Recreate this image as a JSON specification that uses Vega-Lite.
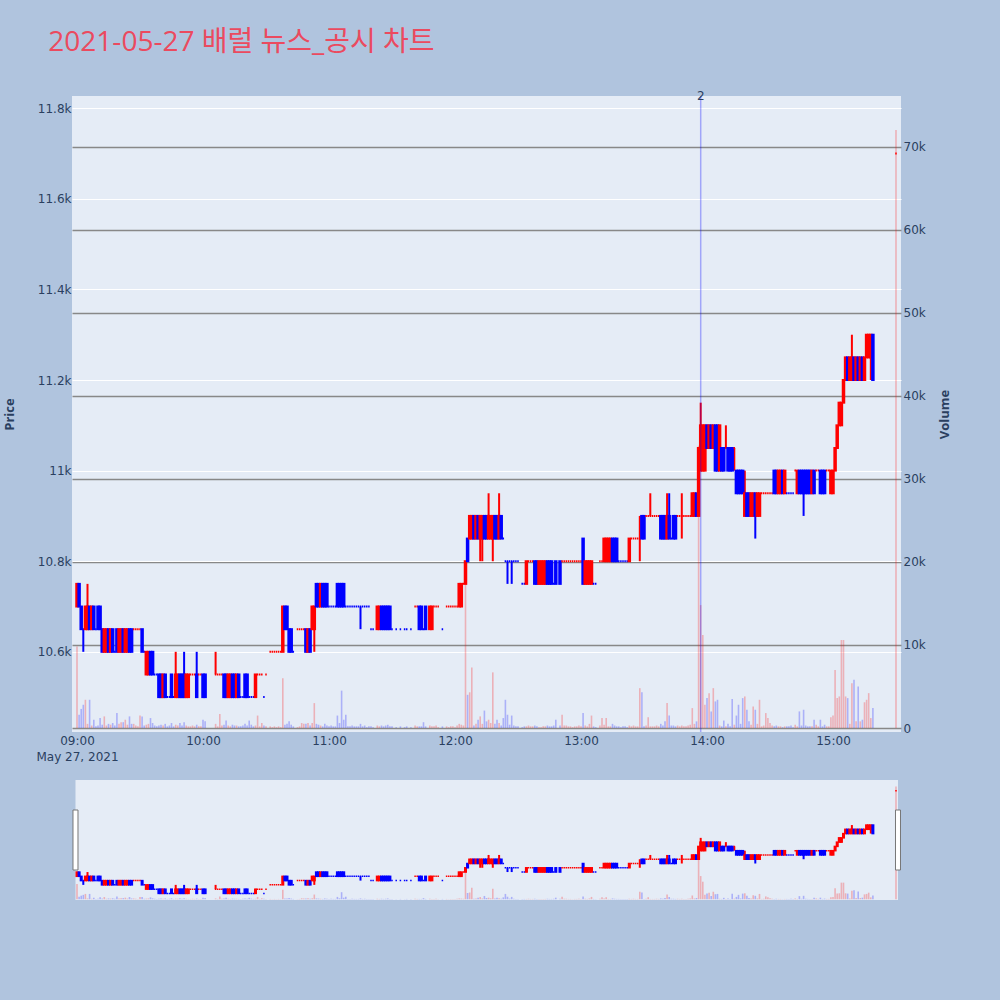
{
"$schema":"https://vega.github.io/schema/vega-lite/v6.json",
"background":"#B0C4DE",
"padding":{"left":3,"top":29,"right":50,"bottom":100},
"title":{"text":"2021-05-27 배럴 뉴스_공시 차트","anchor":"start","fontSize":28,"font":"Open Sans, Noto Sans CJK KR","fontWeight":"normal","color":"#EB4A5F","dx":45,"offset":33},
"bounds":"flush",
"spacing":48,
"config":{"view":{"stroke":null},"scale":{"continuousPadding":0},"axis":{"labelFont":"DejaVu Sans","titleFont":"Open Sans","labelColor":"#2a3f5f","titleColor":"#2a3f5f","labelFontSize":12,"titleFontSize":13,"titleFontWeight":"bold","domain":false,"ticks":false}},
"datasets":{"ohlc":[
{"t":"2021-05-27T09:00","o":10700,"h":10750,"l":10700,"c":10750,"v":9800},
{"t":"2021-05-27T09:01","o":10750,"h":10750,"l":10700,"c":10700,"v":1600},
{"t":"2021-05-27T09:02","o":10700,"h":10700,"l":10650,"c":10650,"v":2300},
{"t":"2021-05-27T09:03","o":10650,"h":10650,"l":10600,"c":10650,"v":2800},
{"t":"2021-05-27T09:04","o":10650,"h":10700,"l":10650,"c":10700,"v":3400},
{"t":"2021-05-27T09:05","o":10650,"h":10750,"l":10650,"c":10700,"v":500},
{"t":"2021-05-27T09:06","o":10700,"h":10700,"l":10650,"c":10650,"v":3400},
{"t":"2021-05-27T09:07","o":10650,"h":10700,"l":10650,"c":10700,"v":300},
{"t":"2021-05-27T09:08","o":10700,"h":10700,"l":10650,"c":10650,"v":1000},
{"t":"2021-05-27T09:09","o":10650,"h":10650,"l":10650,"c":10650,"v":200},
{"t":"2021-05-27T09:10","o":10700,"h":10700,"l":10650,"c":10650,"v":300},
{"t":"2021-05-27T09:11","o":10700,"h":10700,"l":10650,"c":10650,"v":1200},
{"t":"2021-05-27T09:12","o":10650,"h":10650,"l":10600,"c":10600,"v":400},
{"t":"2021-05-27T09:13","o":10600,"h":10650,"l":10600,"c":10650,"v":1400},
{"t":"2021-05-27T09:14","o":10600,"h":10650,"l":10600,"c":10650,"v":300},
{"t":"2021-05-27T09:15","o":10650,"h":10650,"l":10600,"c":10600,"v":500},
{"t":"2021-05-27T09:16","o":10600,"h":10650,"l":10600,"c":10650,"v":400},
{"t":"2021-05-27T09:17","o":10650,"h":10650,"l":10600,"c":10600,"v":600},
{"t":"2021-05-27T09:18","o":10600,"h":10600,"l":10600,"c":10600,"v":300},
{"t":"2021-05-27T09:19","o":10650,"h":10650,"l":10600,"c":10600,"v":1800},
{"t":"2021-05-27T09:20","o":10600,"h":10650,"l":10600,"c":10650,"v":500},
{"t":"2021-05-27T09:21","o":10600,"h":10650,"l":10600,"c":10650,"v":700},
{"t":"2021-05-27T09:22","o":10650,"h":10650,"l":10600,"c":10600,"v":700},
{"t":"2021-05-27T09:23","o":10600,"h":10650,"l":10600,"c":10650,"v":1000},
{"t":"2021-05-27T09:24","o":10600,"h":10650,"l":10600,"c":10650,"v":400},
{"t":"2021-05-27T09:25","o":10650,"h":10650,"l":10600,"c":10600,"v":1400},
{"t":"2021-05-27T09:26","o":10650,"h":10650,"l":10600,"c":10600,"v":500},
{"t":"2021-05-27T09:27","o":10650,"h":10650,"l":10650,"c":10650,"v":500},
{"t":"2021-05-27T09:28","o":10650,"h":10650,"l":10650,"c":10650,"v":300},
{"t":"2021-05-27T09:29","o":10650,"h":10650,"l":10650,"c":10650,"v":200},
{"t":"2021-05-27T09:30","o":10650,"h":10650,"l":10650,"c":10650,"v":1500},
{"t":"2021-05-27T09:31","o":10650,"h":10650,"l":10600,"c":10600,"v":1400},
{"t":"2021-05-27T09:32","o":10600,"h":10600,"l":10600,"c":10600,"v":300},
{"t":"2021-05-27T09:33","o":10550,"h":10600,"l":10550,"c":10600,"v":400},
{"t":"2021-05-27T09:34","o":10550,"h":10600,"l":10550,"c":10600,"v":500},
{"t":"2021-05-27T09:35","o":10600,"h":10600,"l":10550,"c":10550,"v":1200},
{"t":"2021-05-27T09:36","o":10600,"h":10600,"l":10550,"c":10550,"v":600},
{"t":"2021-05-27T09:37","o":10550,"h":10550,"l":10550,"c":10550,"v":300},
{"t":"2021-05-27T09:38","o":10550,"h":10550,"l":10550,"c":10550,"v":200},
{"t":"2021-05-27T09:39","o":10550,"h":10550,"l":10500,"c":10500,"v":300},
{"t":"2021-05-27T09:40","o":10550,"h":10550,"l":10500,"c":10500,"v":400},
{"t":"2021-05-27T09:41","o":10500,"h":10550,"l":10500,"c":10550,"v":300},
{"t":"2021-05-27T09:42","o":10550,"h":10550,"l":10500,"c":10500,"v":500},
{"t":"2021-05-27T09:43","o":10500,"h":10500,"l":10500,"c":10500,"v":200},
{"t":"2021-05-27T09:44","o":10500,"h":10500,"l":10500,"c":10500,"v":300},
{"t":"2021-05-27T09:45","o":10550,"h":10550,"l":10500,"c":10500,"v":600},
{"t":"2021-05-27T09:46","o":10500,"h":10500,"l":10500,"c":10500,"v":200},
{"t":"2021-05-27T09:47","o":10500,"h":10600,"l":10500,"c":10550,"v":400},
{"t":"2021-05-27T09:48","o":10500,"h":10550,"l":10500,"c":10550,"v":300},
{"t":"2021-05-27T09:49","o":10550,"h":10550,"l":10500,"c":10500,"v":600},
{"t":"2021-05-27T09:50","o":10550,"h":10550,"l":10500,"c":10500,"v":300},
{"t":"2021-05-27T09:51","o":10550,"h":10600,"l":10500,"c":10500,"v":700},
{"t":"2021-05-27T09:52","o":10500,"h":10550,"l":10500,"c":10550,"v":300},
{"t":"2021-05-27T09:53","o":10500,"h":10550,"l":10500,"c":10550,"v":200},
{"t":"2021-05-27T09:54","o":10550,"h":10550,"l":10550,"c":10550,"v":200},
{"t":"2021-05-27T09:55","o":10550,"h":10550,"l":10550,"c":10550,"v":300},
{"t":"2021-05-27T09:56","o":10550,"h":10550,"l":10550,"c":10550,"v":200},
{"t":"2021-05-27T09:57","o":10550,"h":10600,"l":10500,"c":10500,"v":400},
{"t":"2021-05-27T09:58","o":10550,"h":10550,"l":10550,"c":10550,"v":200},
{"t":"2021-05-27T09:59","o":10550,"h":10550,"l":10550,"c":10550,"v":200},
{"t":"2021-05-27T10:00","o":10550,"h":10550,"l":10500,"c":10500,"v":1000},
{"t":"2021-05-27T10:01","o":10550,"h":10550,"l":10500,"c":10500,"v":800},
{"t":"2021-05-27T10:06","o":10550,"h":10600,"l":10550,"c":10550,"v":500},
{"t":"2021-05-27T10:07","o":10550,"h":10550,"l":10550,"c":10550,"v":200},
{"t":"2021-05-27T10:08","o":10550,"h":10550,"l":10550,"c":10550,"v":1700},
{"t":"2021-05-27T10:09","o":10550,"h":10550,"l":10550,"c":10550,"v":300},
{"t":"2021-05-27T10:10","o":10550,"h":10550,"l":10500,"c":10500,"v":400},
{"t":"2021-05-27T10:11","o":10550,"h":10550,"l":10500,"c":10500,"v":900},
{"t":"2021-05-27T10:12","o":10500,"h":10550,"l":10500,"c":10550,"v":300},
{"t":"2021-05-27T10:13","o":10500,"h":10550,"l":10500,"c":10550,"v":200},
{"t":"2021-05-27T10:14","o":10550,"h":10550,"l":10500,"c":10500,"v":400},
{"t":"2021-05-27T10:15","o":10550,"h":10550,"l":10500,"c":10500,"v":300},
{"t":"2021-05-27T10:16","o":10500,"h":10550,"l":10500,"c":10550,"v":300},
{"t":"2021-05-27T10:17","o":10550,"h":10550,"l":10500,"c":10500,"v":200},
{"t":"2021-05-27T10:18","o":10500,"h":10500,"l":10500,"c":10500,"v":200},
{"t":"2021-05-27T10:19","o":10500,"h":10500,"l":10500,"c":10500,"v":300},
{"t":"2021-05-27T10:20","o":10550,"h":10550,"l":10500,"c":10500,"v":500},
{"t":"2021-05-27T10:21","o":10550,"h":10550,"l":10500,"c":10500,"v":300},
{"t":"2021-05-27T10:22","o":10500,"h":10500,"l":10500,"c":10500,"v":900},
{"t":"2021-05-27T10:23","o":10500,"h":10500,"l":10500,"c":10500,"v":400},
{"t":"2021-05-27T10:24","o":10500,"h":10500,"l":10500,"c":10500,"v":200},
{"t":"2021-05-27T10:25","o":10500,"h":10550,"l":10500,"c":10550,"v":300},
{"t":"2021-05-27T10:26","o":10550,"h":10550,"l":10550,"c":10550,"v":1500},
{"t":"2021-05-27T10:27","o":10550,"h":10550,"l":10550,"c":10550,"v":200},
{"t":"2021-05-27T10:28","o":10550,"h":10550,"l":10550,"c":10550,"v":600},
{"t":"2021-05-27T10:29","o":10500,"h":10500,"l":10500,"c":10500,"v":300},
{"t":"2021-05-27T10:30","o":10550,"h":10550,"l":10550,"c":10550,"v":200},
{"t":"2021-05-27T10:32","o":10600,"h":10600,"l":10600,"c":10600,"v":200},
{"t":"2021-05-27T10:33","o":10600,"h":10600,"l":10600,"c":10600,"v":100},
{"t":"2021-05-27T10:34","o":10600,"h":10600,"l":10600,"c":10600,"v":200},
{"t":"2021-05-27T10:35","o":10600,"h":10600,"l":10600,"c":10600,"v":100},
{"t":"2021-05-27T10:36","o":10600,"h":10600,"l":10600,"c":10600,"v":200},
{"t":"2021-05-27T10:37","o":10600,"h":10600,"l":10600,"c":10600,"v":100},
{"t":"2021-05-27T10:38","o":10600,"h":10700,"l":10600,"c":10700,"v":6000},
{"t":"2021-05-27T10:39","o":10700,"h":10700,"l":10650,"c":10650,"v":400},
{"t":"2021-05-27T10:40","o":10700,"h":10700,"l":10650,"c":10650,"v":500},
{"t":"2021-05-27T10:41","o":10650,"h":10650,"l":10600,"c":10600,"v":800},
{"t":"2021-05-27T10:42","o":10650,"h":10650,"l":10600,"c":10600,"v":400},
{"t":"2021-05-27T10:43","o":10600,"h":10600,"l":10600,"c":10600,"v":200},
{"t":"2021-05-27T10:45","o":10650,"h":10650,"l":10650,"c":10650,"v":100},
{"t":"2021-05-27T10:46","o":10650,"h":10650,"l":10650,"c":10650,"v":200},
{"t":"2021-05-27T10:47","o":10650,"h":10650,"l":10650,"c":10650,"v":600},
{"t":"2021-05-27T10:48","o":10650,"h":10650,"l":10650,"c":10650,"v":500},
{"t":"2021-05-27T10:49","o":10650,"h":10650,"l":10600,"c":10600,"v":500},
{"t":"2021-05-27T10:50","o":10600,"h":10650,"l":10600,"c":10650,"v":600},
{"t":"2021-05-27T10:51","o":10650,"h":10650,"l":10600,"c":10600,"v":300},
{"t":"2021-05-27T10:52","o":10650,"h":10700,"l":10650,"c":10700,"v":600},
{"t":"2021-05-27T10:53","o":10650,"h":10700,"l":10600,"c":10700,"v":3000},
{"t":"2021-05-27T10:54","o":10750,"h":10750,"l":10700,"c":10700,"v":500},
{"t":"2021-05-27T10:55","o":10750,"h":10750,"l":10700,"c":10700,"v":400},
{"t":"2021-05-27T10:56","o":10700,"h":10750,"l":10700,"c":10750,"v":300},
{"t":"2021-05-27T10:57","o":10750,"h":10750,"l":10700,"c":10700,"v":200},
{"t":"2021-05-27T10:58","o":10750,"h":10750,"l":10700,"c":10700,"v":500},
{"t":"2021-05-27T10:59","o":10750,"h":10750,"l":10700,"c":10700,"v":300},
{"t":"2021-05-27T11:00","o":10700,"h":10700,"l":10700,"c":10700,"v":200},
{"t":"2021-05-27T11:01","o":10700,"h":10700,"l":10700,"c":10700,"v":300},
{"t":"2021-05-27T11:02","o":10700,"h":10700,"l":10700,"c":10700,"v":200},
{"t":"2021-05-27T11:03","o":10700,"h":10700,"l":10700,"c":10700,"v":200},
{"t":"2021-05-27T11:04","o":10750,"h":10750,"l":10700,"c":10700,"v":1500},
{"t":"2021-05-27T11:05","o":10750,"h":10750,"l":10700,"c":10700,"v":600},
{"t":"2021-05-27T11:06","o":10750,"h":10750,"l":10700,"c":10700,"v":4500},
{"t":"2021-05-27T11:07","o":10750,"h":10750,"l":10700,"c":10700,"v":1000},
{"t":"2021-05-27T11:08","o":10700,"h":10700,"l":10700,"c":10700,"v":1600},
{"t":"2021-05-27T11:09","o":10700,"h":10700,"l":10700,"c":10700,"v":200},
{"t":"2021-05-27T11:10","o":10700,"h":10700,"l":10700,"c":10700,"v":200},
{"t":"2021-05-27T11:11","o":10700,"h":10700,"l":10700,"c":10700,"v":300},
{"t":"2021-05-27T11:12","o":10700,"h":10700,"l":10700,"c":10700,"v":200},
{"t":"2021-05-27T11:13","o":10700,"h":10700,"l":10700,"c":10700,"v":200},
{"t":"2021-05-27T11:14","o":10700,"h":10700,"l":10700,"c":10700,"v":200},
{"t":"2021-05-27T11:15","o":10700,"h":10700,"l":10650,"c":10700,"v":500},
{"t":"2021-05-27T11:16","o":10700,"h":10700,"l":10700,"c":10700,"v":200},
{"t":"2021-05-27T11:17","o":10700,"h":10700,"l":10700,"c":10700,"v":300},
{"t":"2021-05-27T11:18","o":10700,"h":10700,"l":10700,"c":10700,"v":100},
{"t":"2021-05-27T11:19","o":10700,"h":10700,"l":10700,"c":10700,"v":200},
{"t":"2021-05-27T11:20","o":10650,"h":10650,"l":10650,"c":10650,"v":200},
{"t":"2021-05-27T11:21","o":10650,"h":10650,"l":10650,"c":10650,"v":100},
{"t":"2021-05-27T11:23","o":10650,"h":10700,"l":10650,"c":10700,"v":300},
{"t":"2021-05-27T11:24","o":10650,"h":10700,"l":10650,"c":10700,"v":200},
{"t":"2021-05-27T11:25","o":10700,"h":10700,"l":10650,"c":10650,"v":300},
{"t":"2021-05-27T11:26","o":10700,"h":10700,"l":10650,"c":10650,"v":200},
{"t":"2021-05-27T11:27","o":10700,"h":10700,"l":10650,"c":10650,"v":300},
{"t":"2021-05-27T11:28","o":10700,"h":10700,"l":10650,"c":10650,"v":400},
{"t":"2021-05-27T11:29","o":10700,"h":10700,"l":10650,"c":10650,"v":200},
{"t":"2021-05-27T11:30","o":10650,"h":10650,"l":10650,"c":10650,"v":200},
{"t":"2021-05-27T11:32","o":10650,"h":10650,"l":10650,"c":10650,"v":100},
{"t":"2021-05-27T11:34","o":10650,"h":10650,"l":10650,"c":10650,"v":200},
{"t":"2021-05-27T11:36","o":10650,"h":10650,"l":10650,"c":10650,"v":100},
{"t":"2021-05-27T11:37","o":10650,"h":10650,"l":10650,"c":10650,"v":200},
{"t":"2021-05-27T11:39","o":10650,"h":10650,"l":10650,"c":10650,"v":100},
{"t":"2021-05-27T11:41","o":10700,"h":10700,"l":10700,"c":10700,"v":300},
{"t":"2021-05-27T11:42","o":10700,"h":10700,"l":10700,"c":10700,"v":200},
{"t":"2021-05-27T11:43","o":10700,"h":10700,"l":10650,"c":10650,"v":200},
{"t":"2021-05-27T11:44","o":10700,"h":10700,"l":10650,"c":10650,"v":200},
{"t":"2021-05-27T11:45","o":10650,"h":10650,"l":10650,"c":10650,"v":700},
{"t":"2021-05-27T11:46","o":10700,"h":10700,"l":10650,"c":10650,"v":200},
{"t":"2021-05-27T11:48","o":10650,"h":10700,"l":10650,"c":10700,"v":300},
{"t":"2021-05-27T11:49","o":10650,"h":10700,"l":10650,"c":10700,"v":200},
{"t":"2021-05-27T11:50","o":10700,"h":10700,"l":10700,"c":10700,"v":200},
{"t":"2021-05-27T11:51","o":10700,"h":10700,"l":10700,"c":10700,"v":300},
{"t":"2021-05-27T11:52","o":10700,"h":10700,"l":10700,"c":10700,"v":100},
{"t":"2021-05-27T11:54","o":10650,"h":10650,"l":10650,"c":10650,"v":200},
{"t":"2021-05-27T11:56","o":10700,"h":10700,"l":10700,"c":10700,"v":200},
{"t":"2021-05-27T11:57","o":10700,"h":10700,"l":10700,"c":10700,"v":100},
{"t":"2021-05-27T11:58","o":10700,"h":10700,"l":10700,"c":10700,"v":200},
{"t":"2021-05-27T11:59","o":10700,"h":10700,"l":10700,"c":10700,"v":200},
{"t":"2021-05-27T12:00","o":10700,"h":10700,"l":10700,"c":10700,"v":100},
{"t":"2021-05-27T12:01","o":10700,"h":10700,"l":10700,"c":10700,"v":300},
{"t":"2021-05-27T12:02","o":10700,"h":10750,"l":10700,"c":10750,"v":500},
{"t":"2021-05-27T12:03","o":10700,"h":10750,"l":10700,"c":10750,"v":400},
{"t":"2021-05-27T12:04","o":10750,"h":10750,"l":10750,"c":10750,"v":300},
{"t":"2021-05-27T12:05","o":10750,"h":10800,"l":10750,"c":10800,"v":20000},
{"t":"2021-05-27T12:06","o":10850,"h":10850,"l":10800,"c":10800,"v":4000},
{"t":"2021-05-27T12:07","o":10850,"h":10900,"l":10850,"c":10900,"v":4300},
{"t":"2021-05-27T12:08","o":10850,"h":10900,"l":10850,"c":10900,"v":7300},
{"t":"2021-05-27T12:09","o":10900,"h":10900,"l":10850,"c":10850,"v":300},
{"t":"2021-05-27T12:10","o":10850,"h":10900,"l":10850,"c":10900,"v":500},
{"t":"2021-05-27T12:11","o":10900,"h":10900,"l":10850,"c":10850,"v":1000},
{"t":"2021-05-27T12:12","o":10850,"h":10900,"l":10800,"c":10900,"v":1400},
{"t":"2021-05-27T12:13","o":10850,"h":10900,"l":10800,"c":10900,"v":500},
{"t":"2021-05-27T12:14","o":10900,"h":10900,"l":10850,"c":10850,"v":2100},
{"t":"2021-05-27T12:15","o":10900,"h":10900,"l":10850,"c":10850,"v":800},
{"t":"2021-05-27T12:16","o":10850,"h":10950,"l":10850,"c":10900,"v":1000},
{"t":"2021-05-27T12:17","o":10850,"h":10900,"l":10850,"c":10900,"v":600},
{"t":"2021-05-27T12:18","o":10850,"h":10900,"l":10800,"c":10900,"v":6700},
{"t":"2021-05-27T12:19","o":10900,"h":10900,"l":10850,"c":10850,"v":500},
{"t":"2021-05-27T12:20","o":10900,"h":10900,"l":10850,"c":10850,"v":1000},
{"t":"2021-05-27T12:21","o":10850,"h":10950,"l":10850,"c":10900,"v":600},
{"t":"2021-05-27T12:22","o":10900,"h":10900,"l":10850,"c":10850,"v":300},
{"t":"2021-05-27T12:23","o":10850,"h":10850,"l":10850,"c":10850,"v":1200},
{"t":"2021-05-27T12:24","o":10800,"h":10800,"l":10800,"c":10800,"v":3400},
{"t":"2021-05-27T12:25","o":10800,"h":10800,"l":10750,"c":10800,"v":1600},
{"t":"2021-05-27T12:26","o":10800,"h":10800,"l":10800,"c":10800,"v":400},
{"t":"2021-05-27T12:27","o":10800,"h":10800,"l":10750,"c":10800,"v":1500},
{"t":"2021-05-27T12:28","o":10800,"h":10800,"l":10800,"c":10800,"v":300},
{"t":"2021-05-27T12:29","o":10800,"h":10800,"l":10800,"c":10800,"v":200},
{"t":"2021-05-27T12:30","o":10800,"h":10800,"l":10800,"c":10800,"v":200},
{"t":"2021-05-27T12:32","o":10750,"h":10750,"l":10750,"c":10750,"v":100},
{"t":"2021-05-27T12:33","o":10750,"h":10750,"l":10750,"c":10750,"v":200},
{"t":"2021-05-27T12:34","o":10750,"h":10800,"l":10750,"c":10800,"v":200},
{"t":"2021-05-27T12:35","o":10800,"h":10800,"l":10800,"c":10800,"v":300},
{"t":"2021-05-27T12:36","o":10800,"h":10800,"l":10800,"c":10800,"v":200},
{"t":"2021-05-27T12:37","o":10800,"h":10800,"l":10800,"c":10800,"v":200},
{"t":"2021-05-27T12:38","o":10800,"h":10800,"l":10750,"c":10750,"v":300},
{"t":"2021-05-27T12:39","o":10800,"h":10800,"l":10750,"c":10750,"v":200},
{"t":"2021-05-27T12:40","o":10750,"h":10800,"l":10750,"c":10800,"v":100},
{"t":"2021-05-27T12:41","o":10750,"h":10800,"l":10750,"c":10800,"v":100},
{"t":"2021-05-27T12:42","o":10750,"h":10800,"l":10750,"c":10800,"v":200},
{"t":"2021-05-27T12:43","o":10750,"h":10800,"l":10750,"c":10800,"v":200},
{"t":"2021-05-27T12:44","o":10800,"h":10800,"l":10750,"c":10750,"v":300},
{"t":"2021-05-27T12:45","o":10800,"h":10800,"l":10750,"c":10750,"v":200},
{"t":"2021-05-27T12:46","o":10800,"h":10800,"l":10750,"c":10750,"v":200},
{"t":"2021-05-27T12:47","o":10750,"h":10750,"l":10750,"c":10750,"v":300},
{"t":"2021-05-27T12:48","o":10800,"h":10800,"l":10750,"c":10750,"v":1000},
{"t":"2021-05-27T12:50","o":10800,"h":10800,"l":10750,"c":10750,"v":300},
{"t":"2021-05-27T12:51","o":10800,"h":10800,"l":10800,"c":10800,"v":1600},
{"t":"2021-05-27T12:52","o":10800,"h":10800,"l":10800,"c":10800,"v":300},
{"t":"2021-05-27T12:53","o":10800,"h":10800,"l":10800,"c":10800,"v":300},
{"t":"2021-05-27T12:54","o":10800,"h":10800,"l":10800,"c":10800,"v":200},
{"t":"2021-05-27T12:55","o":10800,"h":10800,"l":10800,"c":10800,"v":200},
{"t":"2021-05-27T12:56","o":10800,"h":10800,"l":10800,"c":10800,"v":100},
{"t":"2021-05-27T12:57","o":10800,"h":10800,"l":10800,"c":10800,"v":200},
{"t":"2021-05-27T12:58","o":10800,"h":10800,"l":10800,"c":10800,"v":200},
{"t":"2021-05-27T12:59","o":10800,"h":10800,"l":10800,"c":10800,"v":300},
{"t":"2021-05-27T13:00","o":10800,"h":10800,"l":10800,"c":10800,"v":200},
{"t":"2021-05-27T13:01","o":10850,"h":10850,"l":10750,"c":10750,"v":1800},
{"t":"2021-05-27T13:02","o":10750,"h":10800,"l":10750,"c":10800,"v":300},
{"t":"2021-05-27T13:03","o":10750,"h":10800,"l":10750,"c":10800,"v":200},
{"t":"2021-05-27T13:04","o":10750,"h":10800,"l":10750,"c":10800,"v":500},
{"t":"2021-05-27T13:05","o":10750,"h":10800,"l":10750,"c":10800,"v":1500},
{"t":"2021-05-27T13:06","o":10750,"h":10750,"l":10750,"c":10750,"v":200},
{"t":"2021-05-27T13:07","o":10750,"h":10750,"l":10750,"c":10750,"v":100},
{"t":"2021-05-27T13:09","o":10800,"h":10800,"l":10800,"c":10800,"v":300},
{"t":"2021-05-27T13:10","o":10800,"h":10800,"l":10800,"c":10800,"v":1200},
{"t":"2021-05-27T13:11","o":10800,"h":10850,"l":10800,"c":10850,"v":400},
{"t":"2021-05-27T13:12","o":10800,"h":10850,"l":10800,"c":10850,"v":1200},
{"t":"2021-05-27T13:13","o":10800,"h":10850,"l":10800,"c":10850,"v":200},
{"t":"2021-05-27T13:14","o":10800,"h":10850,"l":10800,"c":10850,"v":200},
{"t":"2021-05-27T13:15","o":10850,"h":10850,"l":10800,"c":10800,"v":500},
{"t":"2021-05-27T13:16","o":10850,"h":10850,"l":10800,"c":10800,"v":300},
{"t":"2021-05-27T13:17","o":10850,"h":10850,"l":10800,"c":10800,"v":200},
{"t":"2021-05-27T13:18","o":10800,"h":10800,"l":10800,"c":10800,"v":200},
{"t":"2021-05-27T13:19","o":10800,"h":10800,"l":10800,"c":10800,"v":100},
{"t":"2021-05-27T13:20","o":10800,"h":10800,"l":10800,"c":10800,"v":200},
{"t":"2021-05-27T13:21","o":10800,"h":10800,"l":10800,"c":10800,"v":200},
{"t":"2021-05-27T13:22","o":10800,"h":10800,"l":10800,"c":10800,"v":100},
{"t":"2021-05-27T13:23","o":10800,"h":10850,"l":10800,"c":10850,"v":300},
{"t":"2021-05-27T13:24","o":10850,"h":10850,"l":10850,"c":10850,"v":200},
{"t":"2021-05-27T13:25","o":10850,"h":10850,"l":10850,"c":10850,"v":300},
{"t":"2021-05-27T13:26","o":10850,"h":10850,"l":10850,"c":10850,"v":200},
{"t":"2021-05-27T13:27","o":10850,"h":10850,"l":10850,"c":10850,"v":200},
{"t":"2021-05-27T13:28","o":10850,"h":10900,"l":10800,"c":10850,"v":4800},
{"t":"2021-05-27T13:29","o":10900,"h":10900,"l":10850,"c":10850,"v":4300},
{"t":"2021-05-27T13:30","o":10900,"h":10900,"l":10850,"c":10850,"v":200},
{"t":"2021-05-27T13:31","o":10900,"h":10900,"l":10900,"c":10900,"v":300},
{"t":"2021-05-27T13:32","o":10900,"h":10900,"l":10900,"c":10900,"v":1300},
{"t":"2021-05-27T13:33","o":10900,"h":10950,"l":10900,"c":10900,"v":200},
{"t":"2021-05-27T13:34","o":10900,"h":10900,"l":10900,"c":10900,"v":200},
{"t":"2021-05-27T13:35","o":10900,"h":10900,"l":10900,"c":10900,"v":200},
{"t":"2021-05-27T13:36","o":10900,"h":10900,"l":10900,"c":10900,"v":300},
{"t":"2021-05-27T13:37","o":10900,"h":10900,"l":10900,"c":10900,"v":200},
{"t":"2021-05-27T13:38","o":10900,"h":10900,"l":10850,"c":10850,"v":500},
{"t":"2021-05-27T13:39","o":10900,"h":10900,"l":10850,"c":10850,"v":300},
{"t":"2021-05-27T13:40","o":10900,"h":10900,"l":10850,"c":10850,"v":800},
{"t":"2021-05-27T13:41","o":10850,"h":10950,"l":10850,"c":10900,"v":3000},
{"t":"2021-05-27T13:42","o":10900,"h":10950,"l":10850,"c":10850,"v":1500},
{"t":"2021-05-27T13:43","o":10850,"h":10850,"l":10850,"c":10850,"v":300},
{"t":"2021-05-27T13:44","o":10900,"h":10900,"l":10850,"c":10850,"v":300},
{"t":"2021-05-27T13:45","o":10900,"h":10900,"l":10850,"c":10850,"v":200},
{"t":"2021-05-27T13:46","o":10900,"h":10900,"l":10900,"c":10900,"v":300},
{"t":"2021-05-27T13:47","o":10900,"h":10900,"l":10900,"c":10900,"v":200},
{"t":"2021-05-27T13:48","o":10900,"h":10950,"l":10850,"c":10900,"v":300},
{"t":"2021-05-27T13:49","o":10900,"h":10900,"l":10900,"c":10900,"v":200},
{"t":"2021-05-27T13:50","o":10900,"h":10900,"l":10900,"c":10900,"v":200},
{"t":"2021-05-27T13:51","o":10900,"h":10900,"l":10900,"c":10900,"v":300},
{"t":"2021-05-27T13:52","o":10900,"h":10900,"l":10900,"c":10900,"v":400},
{"t":"2021-05-27T13:53","o":10900,"h":10950,"l":10900,"c":10950,"v":2400},
{"t":"2021-05-27T13:54","o":10900,"h":10950,"l":10900,"c":10950,"v":500},
{"t":"2021-05-27T13:55","o":10950,"h":10950,"l":10900,"c":10900,"v":800},
{"t":"2021-05-27T13:56","o":10900,"h":11050,"l":10900,"c":11050,"v":34000},
{"t":"2021-05-27T13:57","o":11000,"h":11150,"l":11000,"c":11100,"v":14800},
{"t":"2021-05-27T13:58","o":11000,"h":11100,"l":11000,"c":11100,"v":11200},
{"t":"2021-05-27T13:59","o":11000,"h":11100,"l":11000,"c":11100,"v":2800},
{"t":"2021-05-27T14:00","o":11100,"h":11100,"l":11050,"c":11050,"v":3600},
{"t":"2021-05-27T14:01","o":11050,"h":11100,"l":11050,"c":11100,"v":4200},
{"t":"2021-05-27T14:02","o":11100,"h":11100,"l":11050,"c":11050,"v":2000},
{"t":"2021-05-27T14:03","o":11050,"h":11100,"l":11050,"c":11100,"v":4800},
{"t":"2021-05-27T14:04","o":11100,"h":11100,"l":11000,"c":11000,"v":3200},
{"t":"2021-05-27T14:05","o":11100,"h":11100,"l":11000,"c":11000,"v":3400},
{"t":"2021-05-27T14:06","o":11000,"h":11100,"l":11000,"c":11100,"v":300},
{"t":"2021-05-27T14:07","o":11050,"h":11050,"l":11000,"c":11000,"v":200},
{"t":"2021-05-27T14:08","o":11050,"h":11050,"l":11000,"c":11000,"v":900},
{"t":"2021-05-27T14:09","o":11050,"h":11100,"l":11050,"c":11050,"v":200},
{"t":"2021-05-27T14:10","o":11050,"h":11050,"l":11000,"c":11000,"v":500},
{"t":"2021-05-27T14:11","o":11050,"h":11050,"l":11000,"c":11000,"v":200},
{"t":"2021-05-27T14:12","o":11050,"h":11050,"l":11000,"c":11000,"v":3500},
{"t":"2021-05-27T14:13","o":11050,"h":11050,"l":11000,"c":11050,"v":400},
{"t":"2021-05-27T14:14","o":11000,"h":11000,"l":10950,"c":10950,"v":1500},
{"t":"2021-05-27T14:15","o":11000,"h":11000,"l":10950,"c":10950,"v":2800},
{"t":"2021-05-27T14:16","o":11000,"h":11000,"l":10950,"c":10950,"v":500},
{"t":"2021-05-27T14:17","o":11000,"h":11000,"l":10950,"c":10950,"v":3600},
{"t":"2021-05-27T14:18","o":10900,"h":11000,"l":10900,"c":10950,"v":3800},
{"t":"2021-05-27T14:19","o":10950,"h":10950,"l":10900,"c":10900,"v":2200},
{"t":"2021-05-27T14:20","o":10950,"h":10950,"l":10900,"c":10900,"v":800},
{"t":"2021-05-27T14:21","o":10900,"h":10950,"l":10900,"c":10950,"v":400},
{"t":"2021-05-27T14:22","o":10900,"h":10950,"l":10900,"c":10950,"v":2600},
{"t":"2021-05-27T14:23","o":10950,"h":10950,"l":10850,"c":10900,"v":2200},
{"t":"2021-05-27T14:24","o":10900,"h":10950,"l":10900,"c":10950,"v":500},
{"t":"2021-05-27T14:25","o":10900,"h":10950,"l":10900,"c":10950,"v":3400},
{"t":"2021-05-27T14:26","o":10950,"h":10950,"l":10950,"c":10950,"v":200},
{"t":"2021-05-27T14:27","o":10950,"h":10950,"l":10950,"c":10950,"v":300},
{"t":"2021-05-27T14:28","o":10950,"h":10950,"l":10950,"c":10950,"v":1800},
{"t":"2021-05-27T14:29","o":10950,"h":10950,"l":10950,"c":10950,"v":1200},
{"t":"2021-05-27T14:30","o":10950,"h":10950,"l":10950,"c":10950,"v":600},
{"t":"2021-05-27T14:31","o":10950,"h":10950,"l":10950,"c":10950,"v":300},
{"t":"2021-05-27T14:32","o":11000,"h":11000,"l":10950,"c":10950,"v":200},
{"t":"2021-05-27T14:33","o":11000,"h":11000,"l":10950,"c":10950,"v":300},
{"t":"2021-05-27T14:34","o":10950,"h":11000,"l":10950,"c":11000,"v":200},
{"t":"2021-05-27T14:35","o":10950,"h":11000,"l":10950,"c":11000,"v":200},
{"t":"2021-05-27T14:36","o":11000,"h":11000,"l":10950,"c":10950,"v":100},
{"t":"2021-05-27T14:37","o":10950,"h":11000,"l":10950,"c":11000,"v":200},
{"t":"2021-05-27T14:38","o":10950,"h":10950,"l":10950,"c":10950,"v":200},
{"t":"2021-05-27T14:39","o":10950,"h":10950,"l":10950,"c":10950,"v":200},
{"t":"2021-05-27T14:40","o":10950,"h":10950,"l":10950,"c":10950,"v":300},
{"t":"2021-05-27T14:41","o":10950,"h":10950,"l":10950,"c":10950,"v":100},
{"t":"2021-05-27T14:42","o":11000,"h":11000,"l":11000,"c":11000,"v":400},
{"t":"2021-05-27T14:43","o":10950,"h":11000,"l":10950,"c":11000,"v":200},
{"t":"2021-05-27T14:44","o":11000,"h":11000,"l":10950,"c":10950,"v":2000},
{"t":"2021-05-27T14:45","o":11000,"h":11000,"l":10950,"c":10950,"v":300},
{"t":"2021-05-27T14:46","o":11000,"h":11000,"l":10900,"c":10950,"v":2200},
{"t":"2021-05-27T14:47","o":11000,"h":11000,"l":10950,"c":10950,"v":300},
{"t":"2021-05-27T14:48","o":11000,"h":11000,"l":10950,"c":10950,"v":200},
{"t":"2021-05-27T14:49","o":11000,"h":11000,"l":10950,"c":10950,"v":200},
{"t":"2021-05-27T14:50","o":10950,"h":11000,"l":10950,"c":11000,"v":200},
{"t":"2021-05-27T14:51","o":11000,"h":11000,"l":10950,"c":10950,"v":1000},
{"t":"2021-05-27T14:52","o":11000,"h":11000,"l":11000,"c":11000,"v":400},
{"t":"2021-05-27T14:53","o":11000,"h":11000,"l":11000,"c":11000,"v":200},
{"t":"2021-05-27T14:54","o":11000,"h":11000,"l":10950,"c":10950,"v":1000},
{"t":"2021-05-27T14:55","o":11000,"h":11000,"l":10950,"c":10950,"v":200},
{"t":"2021-05-27T14:56","o":11000,"h":11000,"l":10950,"c":10950,"v":400},
{"t":"2021-05-27T14:57","o":11000,"h":11000,"l":11000,"c":11000,"v":200},
{"t":"2021-05-27T14:58","o":11000,"h":11000,"l":11000,"c":11000,"v":200},
{"t":"2021-05-27T14:59","o":10950,"h":11000,"l":10950,"c":11000,"v":1300},
{"t":"2021-05-27T15:00","o":10950,"h":11000,"l":10950,"c":11000,"v":1500},
{"t":"2021-05-27T15:01","o":11000,"h":11050,"l":11000,"c":11050,"v":7000},
{"t":"2021-05-27T15:02","o":11050,"h":11100,"l":11050,"c":11100,"v":3600},
{"t":"2021-05-27T15:03","o":11100,"h":11150,"l":11100,"c":11150,"v":3800},
{"t":"2021-05-27T15:04","o":11100,"h":11150,"l":11100,"c":11150,"v":10600},
{"t":"2021-05-27T15:05","o":11150,"h":11200,"l":11150,"c":11200,"v":10600},
{"t":"2021-05-27T15:06","o":11200,"h":11250,"l":11200,"c":11250,"v":3800},
{"t":"2021-05-27T15:07","o":11250,"h":11250,"l":11200,"c":11200,"v":3600},
{"t":"2021-05-27T15:08","o":11200,"h":11250,"l":11200,"c":11250,"v":500},
{"t":"2021-05-27T15:09","o":11200,"h":11300,"l":11200,"c":11250,"v":5400},
{"t":"2021-05-27T15:10","o":11250,"h":11250,"l":11200,"c":11200,"v":5800},
{"t":"2021-05-27T15:11","o":11200,"h":11250,"l":11200,"c":11250,"v":800},
{"t":"2021-05-27T15:12","o":11250,"h":11250,"l":11200,"c":11200,"v":5000},
{"t":"2021-05-27T15:13","o":11200,"h":11250,"l":11200,"c":11250,"v":800},
{"t":"2021-05-27T15:14","o":11250,"h":11250,"l":11200,"c":11200,"v":1000},
{"t":"2021-05-27T15:15","o":11200,"h":11250,"l":11200,"c":11250,"v":3100},
{"t":"2021-05-27T15:16","o":11250,"h":11300,"l":11250,"c":11300,"v":3400},
{"t":"2021-05-27T15:17","o":11250,"h":11300,"l":11250,"c":11300,"v":4200},
{"t":"2021-05-27T15:18","o":11250,"h":11300,"l":11200,"c":11300,"v":1200},
{"t":"2021-05-27T15:19","o":11300,"h":11300,"l":11200,"c":11200,"v":2400},
{"t":"2021-05-27T15:30","o":11700,"h":11700,"l":11700,"c":11700,"v":72000}
],
"note":[{"t":"2021-05-27T13:57","label":"2"}],
"handles":[{"t":"2021-05-27T08:59:17"},{"t":"2021-05-27T15:30:57"}],
"slider":[{"t0":"2021-05-27T08:59:17","t1":"2021-05-27T15:30:57"}]
},
"vconcat":[
{
"width":829,"height":636,
"view":{"fill":"#E5ECF6"},
"data":{"name":"ohlc"},
"transform":[
{"window":[{"op":"lag","field":"c","as":"pc"},{"op":"row_number","as":"rn"}],"sort":[{"field":"t","order":"ascending"}]},
{"calculate":"datum.c > datum.o ? 1 : datum.c < datum.o ? -1 : (datum.pc == null ? 1 : datum.c > datum.pc ? 1 : datum.c < datum.pc ? -1 : 0)","as":"k"},
{"calculate":"datum.k == 0 ? 0 : datum.rn * 10 + (datum.k > 0 ? 2 : 1)","as":"key"},
{"window":[{"op":"max","field":"key","as":"lk"}],"sort":[{"field":"t","order":"ascending"}],"frame":[null,0]},
{"calculate":"datum.lk % 10 == 2 ? 'up' : 'down'","as":"dir"}
],
"resolve":{"scale":{"y":"independent"}},
"layer":[
{"mark":{"type":"bar","width":1.6,"opacity":0.25},
"encoding":{
"x":{"field":"t","type":"temporal","scale":{"padding":0,"domain":[{"year":2021,"month":5,"date":27,"hours":8,"minutes":57,"seconds":37},{"year":2021,"month":5,"date":27,"hours":15,"minutes":32,"seconds":23}]},
"axis":{"title":null,"grid":false,"values":[{"year":2021,"month":5,"date":27,"hours":9},{"year":2021,"month":5,"date":27,"hours":10},{"year":2021,"month":5,"date":27,"hours":11},{"year":2021,"month":5,"date":27,"hours":12},{"year":2021,"month":5,"date":27,"hours":13},{"year":2021,"month":5,"date":27,"hours":14},{"year":2021,"month":5,"date":27,"hours":15}],
"labelExpr":"hours(datum.value) == 9 ? ['09:00', 'May 27, 2021'] : timeFormat(datum.value, '%H:%M')","labelLineHeight":16,"labelPadding":3}},
"y":{"field":"v","type":"quantitative","scale":{"domain":[-480,76100],"nice":false,"zero":false},
"axis":{"orient":"right","title":"Volume","titleAngle":270,"values":[0,10000,20000,30000,40000,50000,60000,70000],"labelExpr":"datum.value == 0 ? '0' : (datum.value / 1000) + 'k'","grid":true,"gridColor":"#888888","gridWidth":1.5,"labelPadding":2,"titlePadding":26}},
"y2":{"datum":0},
"color":{"field":"dir","type":"nominal","scale":{"domain":["up","down"],"range":["#FF0000","#0000FF"]},"legend":null}}},
{"layer":[
{"mark":{"type":"rule","strokeWidth":2},
"encoding":{"x":{"field":"t","type":"temporal"},
"y":{"field":"l","type":"quantitative","scale":{"domain":[10423,11827],"nice":false,"zero":false},
"axis":{"title":"Price","values":[10600,10800,11000,11200,11400,11600,11800],"format":"~s","grid":true,"gridColor":"#FFFFFF","gridWidth":1,"labelPadding":1,"titlePadding":21}},
"y2":{"field":"h"},
"color":{"field":"dir","type":"nominal","scale":{"domain":["up","down"],"range":["#FF0000","#0000FF"]},"legend":null}}},
{"mark":{"type":"bar","width":1.5,"strokeWidth":2},
"encoding":{"x":{"field":"t","type":"temporal"},
"y":{"field":"o","type":"quantitative"},"y2":{"field":"c"},
"fill":{"field":"dir","type":"nominal","scale":{"domain":["up","down"],"range":["#FF0000","#0000FF"]},"legend":null},
"stroke":{"field":"dir","type":"nominal","scale":{"domain":["up","down"],"range":["#FF0000","#0000FF"]},"legend":null}}},
{"data":{"name":"note"},"mark":{"type":"rule","color":"#0000FF","opacity":0.3,"strokeWidth":1.5},
"encoding":{"x":{"field":"t","type":"temporal"}}},
{"data":{"name":"note"},"mark":{"type":"text","fontSize":12,"font":"DejaVu Sans","color":"#2a3f5f","baseline":"middle"},
"encoding":{"x":{"field":"t","type":"temporal"},"y":{"datum":11827,"type":"quantitative"},"text":{"field":"label"}}}
]}
]
},
{
"width":829,"height":120,
"data":{"name":"ohlc"},
"transform":[
{"window":[{"op":"lag","field":"c","as":"pc"},{"op":"row_number","as":"rn"}],"sort":[{"field":"t","order":"ascending"}]},
{"calculate":"datum.c > datum.o ? 1 : datum.c < datum.o ? -1 : (datum.pc == null ? 1 : datum.c > datum.pc ? 1 : datum.c < datum.pc ? -1 : 0)","as":"k"},
{"calculate":"datum.k == 0 ? 0 : datum.rn * 10 + (datum.k > 0 ? 2 : 1)","as":"key"},
{"window":[{"op":"max","field":"key","as":"lk"}],"sort":[{"field":"t","order":"ascending"}],"frame":[null,0]},
{"calculate":"datum.lk % 10 == 2 ? 'up' : 'down'","as":"dir"}
],
"resolve":{"scale":{"y":"independent"}},
"layer":[
{"data":{"name":"slider"},"mark":{"type":"rect","color":"#E5ECF6"},
"encoding":{"x":{"field":"t0","type":"temporal","scale":{"padding":0,"domain":[{"year":2021,"month":5,"date":27,"hours":8,"minutes":57,"seconds":37},{"year":2021,"month":5,"date":27,"hours":15,"minutes":32,"seconds":23}]},"axis":null},
"x2":{"field":"t1"},
"y":{"datum":10423,"type":"quantitative","scale":{"domain":[10423,11827],"nice":false,"zero":false},"axis":null},
"y2":{"datum":11827}}},
{"mark":{"type":"bar","width":1.6,"opacity":0.25},
"encoding":{"x":{"field":"t","type":"temporal","axis":null},
"y":{"field":"v","type":"quantitative","scale":{"domain":[-480,76100],"nice":false,"zero":false},"axis":null},
"y2":{"datum":0},
"color":{"field":"dir","type":"nominal","scale":{"domain":["up","down"],"range":["#FF0000","#0000FF"]},"legend":null}}},
{"layer":[
{"mark":{"type":"rule","strokeWidth":2},
"encoding":{"x":{"field":"t","type":"temporal","axis":null},
"y":{"field":"l","type":"quantitative","scale":{"domain":[10423,11827],"nice":false,"zero":false},"axis":null},
"y2":{"field":"h"},
"color":{"field":"dir","type":"nominal","scale":{"domain":["up","down"],"range":["#FF0000","#0000FF"]},"legend":null}}},
{"mark":{"type":"bar","width":1.5,"strokeWidth":1.5},
"encoding":{"x":{"field":"t","type":"temporal"},
"y":{"field":"o","type":"quantitative"},"y2":{"field":"c"},
"fill":{"field":"dir","type":"nominal","scale":{"domain":["up","down"],"range":["#FF0000","#0000FF"]},"legend":null},
"stroke":{"field":"dir","type":"nominal","scale":{"domain":["up","down"],"range":["#FF0000","#0000FF"]},"legend":null}}},
{"data":{"name":"handles"},"mark":{"type":"bar","width":5,"fill":"#FFFFFF","stroke":"#777777","strokeWidth":1},
"encoding":{"x":{"field":"t","type":"temporal"},"y":{"datum":11476,"type":"quantitative"},"y2":{"datum":10774}}}
]}
]
}
]
}
